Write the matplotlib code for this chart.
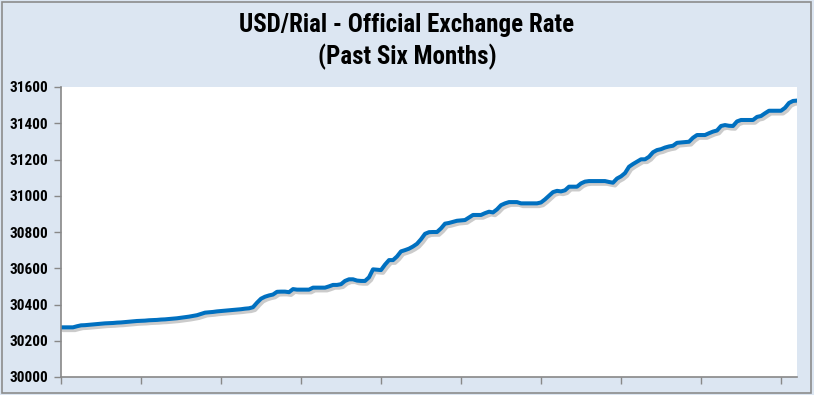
import matplotlib
matplotlib.use("Agg")
import matplotlib.pyplot as plt
import matplotlib.patheffects as pe
from matplotlib.patches import Rectangle
from matplotlib import font_manager

# daily official USD/Rial rate, past six months
rates = [
    30274, 30274, 30274, 30274, 30280, 30285, 30286, 30288, 30290, 30292,
    30294, 30296, 30297, 30298, 30300, 30301, 30303, 30305, 30307, 30309,
    30310, 30311, 30313, 30314, 30315, 30317, 30318, 30320, 30322, 30324,
    30327, 30330, 30333, 30337, 30341, 30348, 30355, 30357, 30359, 30362,
    30364, 30366, 30368, 30370, 30372, 30374, 30377, 30379, 30385, 30410,
    30432, 30443, 30450, 30455, 30470, 30471, 30471, 30468, 30485, 30482,
    30482, 30482, 30482, 30493, 30493, 30493, 30493, 30500, 30508, 30508,
    30512, 30530, 30539, 30539, 30532, 30530, 30530, 30550, 30594, 30592,
    30590, 30620, 30645, 30645, 30665, 30693, 30700, 30708, 30720, 30735,
    30760, 30790, 30799, 30800, 30800, 30820, 30846, 30850, 30856, 30862,
    30864, 30866, 30880, 30894, 30894, 30894, 30904, 30912, 30908, 30925,
    30948, 30958, 30965, 30965, 30965, 30958, 30958, 30958, 30958, 30958,
    30963, 30980, 31000, 31020, 31027, 31024, 31030, 31050, 31050, 31050,
    31068, 31078, 31081, 31081, 31081, 31081, 31081, 31076, 31072, 31095,
    31107, 31125, 31160, 31175, 31188, 31201, 31201, 31215, 31240, 31252,
    31257, 31266, 31272, 31276, 31292, 31294, 31296, 31298, 31320, 31335,
    31335, 31335, 31345, 31354, 31360, 31385, 31390, 31386, 31385, 31410,
    31418, 31418, 31418, 31418, 31435, 31440, 31455, 31469, 31469, 31469,
    31469, 31485, 31512, 31523, 31525,
]
days = list(range(len(rates)))
y_ticks = [30000, 30200, 30400, 30600, 30800, 31000, 31200, 31400, 31600]
x_ticks = list(range(0, 181, 20))

title = "USD/Rial - Official Exchange Rate\n(Past Six Months)"

bg = "#DCE6F2"
blue = "#0070C0"

# pick a narrow family if one is installed
installed = set(f.name for f in font_manager.fontManager.ttflist)
narrow = None
for name in ["Liberation Sans Narrow", "DejaVu Sans Condensed", "Roboto Condensed",
             "Open Sans Condensed", "Noto Sans Condensed"]:
    if name in installed:
        narrow = name
        break
if narrow:
    font = [narrow, "DejaVu Sans"]
    title_size, tick_size = 18, 11
else:
    font = ["DejaVu Sans"]
    title_size, tick_size = 14, 8.5

fig = plt.figure(figsize=(8.14, 3.95), dpi=100, facecolor=bg)
fig.patches.append(Rectangle((0.003, 0.005), 0.993, 0.99, transform=fig.transFigure,
                             fill=False, edgecolor="#8C8C8C", linewidth=1.2))

ax = fig.add_axes([61 / 814, 18 / 395, 736 / 814, 290 / 395])
ax.set_facecolor("white")

ax.plot(days, rates, color=blue, linewidth=2.9, solid_capstyle="round",
        path_effects=[pe.SimpleLineShadow(offset=(1.5, -2), shadow_color="#555555", alpha=0.3),
                      pe.Normal()])

ax.set_xlim(0, len(rates) - 1)
ax.set_ylim(30000, 31600)
ax.set_yticks(y_ticks)
ax.set_xticks(x_ticks)
ax.set_xticklabels([])
ax.set_yticklabels([str(v) for v in y_ticks], family=font, fontweight="bold", fontsize=tick_size)

for s in ["top", "right"]:
    ax.spines[s].set_visible(False)
for s in ["left", "bottom"]:
    ax.spines[s].set_color("#888888")
    ax.spines[s].set_linewidth(1.2)
ax.tick_params(axis="both", direction="out", length=5, color="#888888", width=1)
ax.tick_params(axis="y", pad=4)

fig.text(0.5, 0.895, title, ha="center", va="center", family=font,
         fontweight="bold", fontsize=title_size, linespacing=1.35)

fig.savefig("out.png", dpi=100, facecolor=bg)
